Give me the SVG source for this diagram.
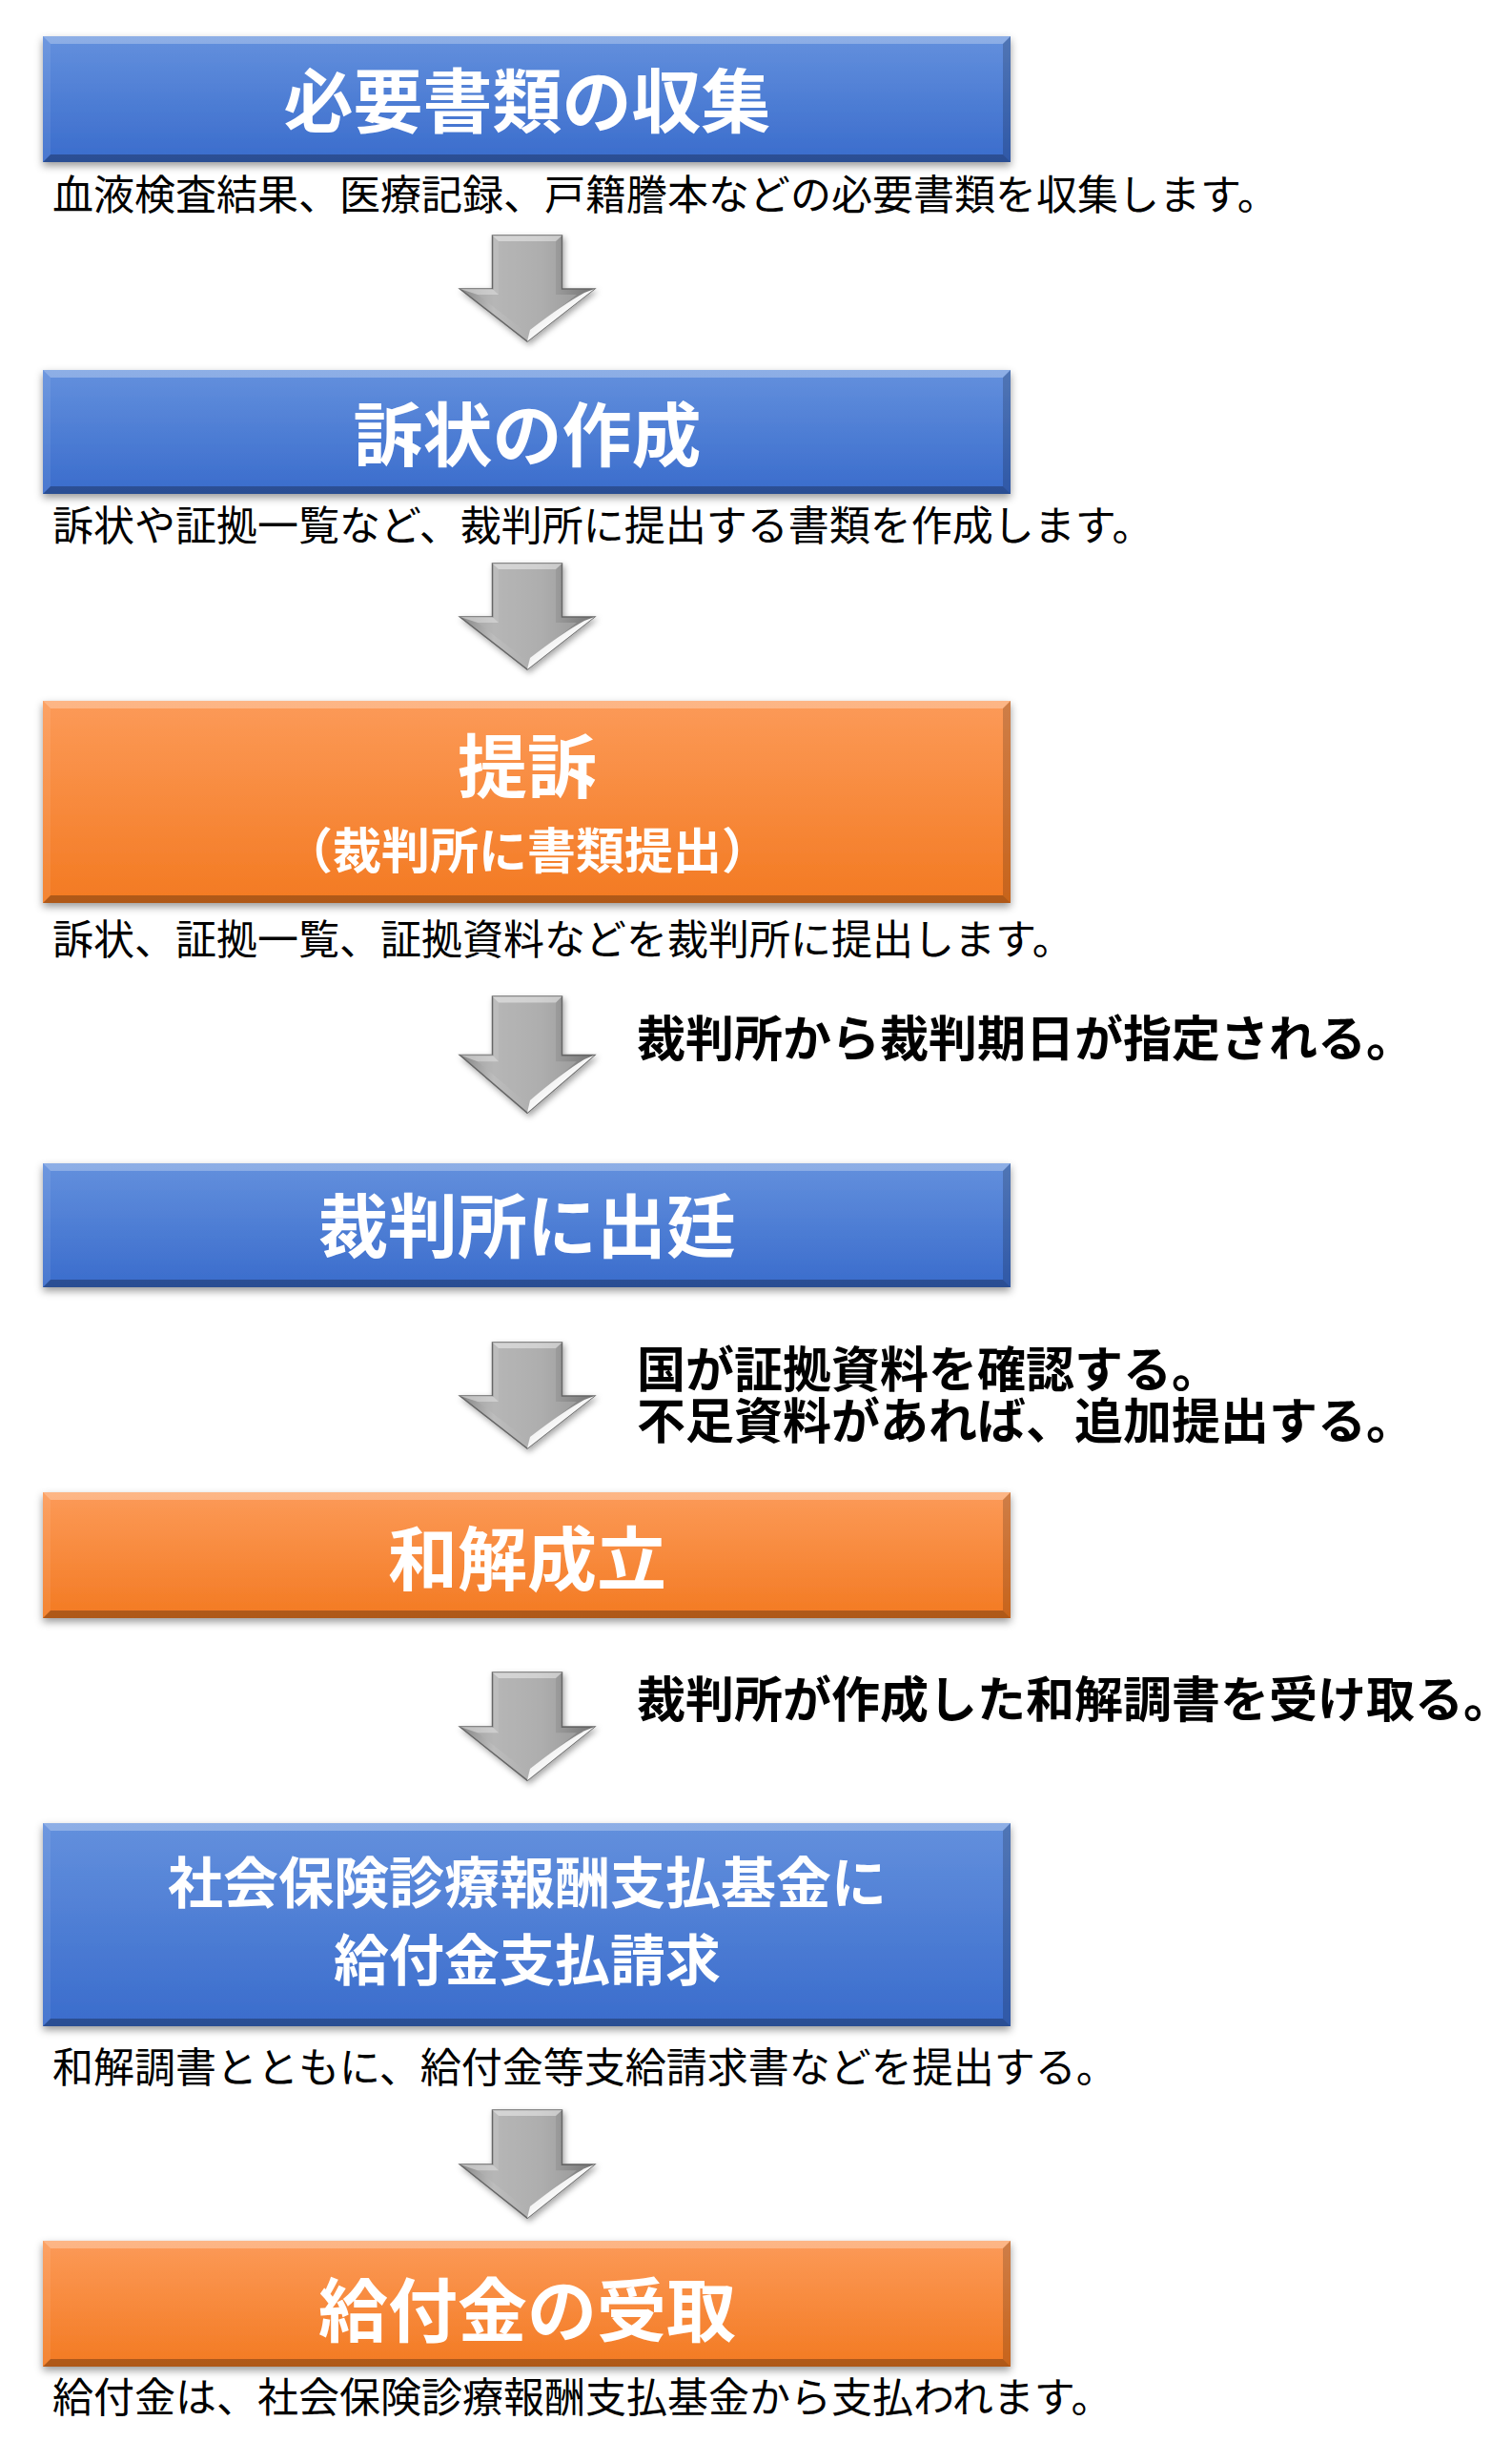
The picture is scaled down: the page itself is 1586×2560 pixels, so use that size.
<svg xmlns="http://www.w3.org/2000/svg" xmlns:xlink="http://www.w3.org/1999/xlink" width="1586" height="2560" viewBox="0 0 1586 2560">
<style>
text{font-family:"Noto Sans CJK JP","Noto Sans CJK SC",sans-serif}
.title{font-weight:700;fill:#ffffff;text-anchor:middle}
.t73{font-size:73px}
.desc{font-size:43px;font-weight:400;fill:#000000}
.side{font-size:51px;font-weight:700;fill:#000000}
.blue{fill:url(#gBlue)}
.orange{fill:url(#gOrange)}
.bvT{fill:#ffffff;fill-opacity:0.28}
.bvB{fill:#000000;fill-opacity:0.28}
.bvL{fill:#ffffff;fill-opacity:0.08}
.bvR{fill:#000000;fill-opacity:0.18}
</style>
<defs>
<linearGradient id="gBlue" x1="0" y1="0" x2="0" y2="1">
<stop offset="0" stop-color="#6390dd"/>
<stop offset="1" stop-color="#3a6ccc"/>
</linearGradient>
<linearGradient id="gOrange" x1="0" y1="0" x2="0" y2="1">
<stop offset="0" stop-color="#fc9a58"/>
<stop offset="1" stop-color="#f37a22"/>
</linearGradient>
<linearGradient id="gArrow" x1="0" y1="0" x2="1" y2="0">
<stop offset="0" stop-color="#858585"/>
<stop offset="0.25" stop-color="#bdbdbd"/>
<stop offset="0.6" stop-color="#ababab"/>
<stop offset="1" stop-color="#747474"/>
</linearGradient>
<linearGradient id="gHi" x1="0" y1="0" x2="1" y2="1">
<stop offset="0" stop-color="#d8d8d8"/>
<stop offset="0.6" stop-color="#ffffff"/>
<stop offset="1" stop-color="#9a9a9a"/>
</linearGradient>
<filter id="boxShadow" x="-5%" y="-20%" width="110%" height="150%">
<feDropShadow dx="0" dy="4" stdDeviation="4" flood-color="#000" flood-opacity="0.4"/>
</filter>
<filter id="arrowShadow" x="-30%" y="-20%" width="160%" height="150%">
<feDropShadow dx="2" dy="3" stdDeviation="3" flood-color="#000" flood-opacity="0.35"/>
</filter>
<g id="arrow">
<path d="M -36.5 0 L 36.5 0 L 36.5 56 L 70.5 56 L 0 111 L -70.5 56 L -36.5 56 Z" fill="url(#gArrow)" stroke="#666666" stroke-width="1.5" stroke-linejoin="miter"/>
<path d="M -30 6 L 30 6 L 30 62 L 52 62 L 0 102 L -52 62 L -30 62 Z" fill="#b0b0b0" fill-opacity="0.55"/>
<path d="M -36.5 0 L 36.5 0 L 30 6 L -30 6 Z" fill="#e0e0e0" fill-opacity="0.7"/>
<path d="M 70.5 56 L 0 111 L 3 99 Q 38 72 60 60 Z" fill="url(#gHi)"/>
<path d="M -70.5 56 L -36.5 56 L -30 62 L -52 62 Z" fill="#d4d4d4" fill-opacity="0.7"/>
</g>
</defs>
<rect x="0" y="0" width="1586" height="2560" fill="#ffffff"/>

<g id="node1">
<g filter="url(#boxShadow)"><rect x="45" y="38" width="1015" height="132" class="blue"/></g>
<polygon class="bvT" points="45,38 1060,38 1052,46 53,46"/>
<polygon class="bvB" points="45,170 1060,170 1052,162 53,162"/>
<polygon class="bvL" points="45,38 53,46 53,162 45,170"/>
<polygon class="bvR" points="1060,38 1052,46 1052,162 1060,170"/>
<text class="title t73" x="553" y="133">必要書類の収集</text>
<text class="desc" x="55" y="220" font-size="42.5">血液検査結果、医療記録、戸籍謄本などの必要書類を収集します。</text>
</g>

<g id="node2">
<g filter="url(#boxShadow)"><rect x="45" y="388" width="1015" height="130" class="blue"/></g>
<polygon class="bvT" points="45,388 1060,388 1052,396 53,396"/>
<polygon class="bvB" points="45,518 1060,518 1052,510 53,510"/>
<polygon class="bvL" points="45,388 53,396 53,510 45,518"/>
<polygon class="bvR" points="1060,388 1052,396 1052,510 1060,518"/>
<text class="title t73" x="553" y="483">訴状の作成</text>
<text class="desc" x="55" y="567">訴状や証拠一覧など、裁判所に提出する書類を作成します。</text>
</g>

<g id="node3">
<g filter="url(#boxShadow)"><rect x="45" y="735" width="1015" height="212" class="orange"/></g>
<polygon class="bvT" points="45,735 1060,735 1052,743 53,743"/>
<polygon class="bvB" points="45,947 1060,947 1052,939 53,939"/>
<polygon class="bvL" points="45,735 53,743 53,939 45,947"/>
<polygon class="bvR" points="1060,735 1052,743 1052,939 1060,947"/>
<text class="title t73" x="553" y="831">提訴</text>
<text class="title" x="553" y="911" font-size="51">（裁判所に書類提出）</text>
<text class="desc" x="55" y="1001" font-size="42">訴状、証拠一覧、証拠資料などを裁判所に提出します。</text>
</g>

<g id="node4">
<g filter="url(#boxShadow)"><rect x="45" y="1220" width="1015" height="130" class="blue"/></g>
<polygon class="bvT" points="45,1220 1060,1220 1052,1228 53,1228"/>
<polygon class="bvB" points="45,1350 1060,1350 1052,1342 53,1342"/>
<polygon class="bvL" points="45,1220 53,1228 53,1342 45,1350"/>
<polygon class="bvR" points="1060,1220 1052,1228 1052,1342 1060,1350"/>
<text class="title t73" x="553" y="1313">裁判所に出廷</text>
</g>

<g id="node5">
<g filter="url(#boxShadow)"><rect x="45" y="1565" width="1015" height="132" class="orange"/></g>
<polygon class="bvT" points="45,1565 1060,1565 1052,1573 53,1573"/>
<polygon class="bvB" points="45,1697 1060,1697 1052,1689 53,1689"/>
<polygon class="bvL" points="45,1565 53,1573 53,1689 45,1697"/>
<polygon class="bvR" points="1060,1565 1052,1573 1052,1689 1060,1697"/>
<text class="title t73" x="553" y="1662">和解成立</text>
</g>

<g id="node6">
<g filter="url(#boxShadow)"><rect x="45" y="1912" width="1015" height="213" class="blue"/></g>
<polygon class="bvT" points="45,1912 1060,1912 1052,1920 53,1920"/>
<polygon class="bvB" points="45,2125 1060,2125 1052,2117 53,2117"/>
<polygon class="bvL" points="45,1912 53,1920 53,2117 45,2125"/>
<polygon class="bvR" points="1060,1912 1052,1920 1052,2117 1060,2125"/>
<text class="title" x="553" y="1996" font-size="58">社会保険診療報酬支払基金に<tspan x="553" dy="81">給付金支払請求</tspan></text>
<text class="desc" x="55" y="2184">和解調書とともに、給付金等支給請求書などを提出する。</text>
</g>

<g id="node7">
<g filter="url(#boxShadow)"><rect x="45" y="2350" width="1015" height="132" class="orange"/></g>
<polygon class="bvT" points="45,2350 1060,2350 1052,2358 53,2358"/>
<polygon class="bvB" points="45,2482 1060,2482 1052,2474 53,2474"/>
<polygon class="bvL" points="45,2350 53,2358 53,2474 45,2482"/>
<polygon class="bvR" points="1060,2350 1052,2358 1052,2474 1060,2482"/>
<text class="title t73" x="553" y="2450">給付金の受取</text>
<text class="desc" x="55" y="2530" font-size="44">給付金は、社会保険診療報酬支払基金から支払われます。</text>
</g>

<g id="connectors">
<use xlink:href="#arrow" href="#arrow" transform="translate(553,247)" filter="url(#arrowShadow)"/>
<use xlink:href="#arrow" href="#arrow" transform="translate(553,591)" filter="url(#arrowShadow)"/>
<use xlink:href="#arrow" href="#arrow" transform="translate(553,1045) scale(1,1.1)" filter="url(#arrowShadow)"/>
<text class="side" x="668" y="1108">裁判所から裁判期日が指定される。</text>
<use xlink:href="#arrow" href="#arrow" transform="translate(553,1408)" filter="url(#arrowShadow)"/>
<text class="side" x="668" y="1455">国が証拠資料を確認する。<tspan x="668" dy="54">不足資料があれば、追加提出する。</tspan></text>
<use xlink:href="#arrow" href="#arrow" transform="translate(553,1754) scale(1,1.02)" filter="url(#arrowShadow)"/>
<text class="side" x="668" y="1801">裁判所が作成した和解調書を受け取る。</text>
<use xlink:href="#arrow" href="#arrow" transform="translate(553,2213) scale(1,1.02)" filter="url(#arrowShadow)"/>
</g>
</svg>
